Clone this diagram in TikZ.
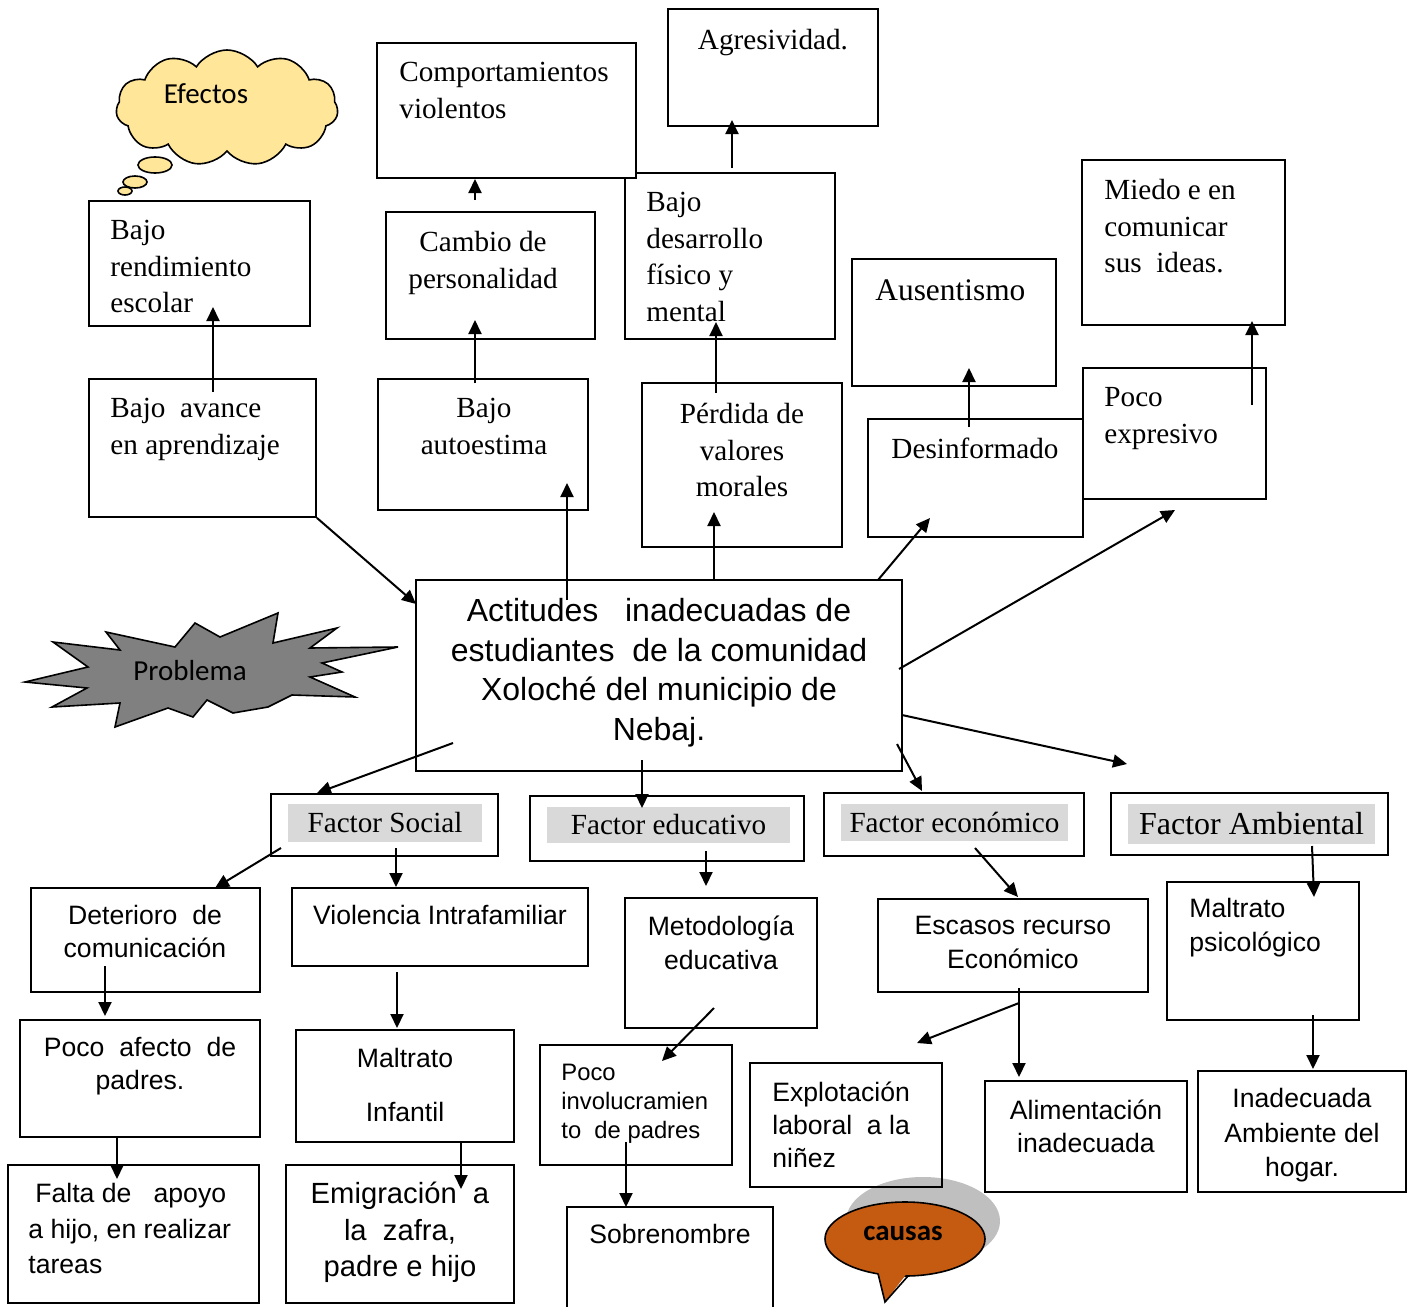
\documentclass[tikz,border=0pt]{standalone}
\usepackage{fontspec}
\setmainfont{Liberation Serif}
\newfontfamily\arialf{Liberation Sans}
\newfontfamily\calib{Carlito}
\usetikzlibrary{arrows.meta,fit,shapes.symbols}
\definecolor{cloudy}{HTML}{FFE699}
\definecolor{probgray}{HTML}{808080}
\definecolor{causeor}{HTML}{C55A11}
\definecolor{shadowg}{HTML}{BFBFBF}
\definecolor{factorg}{HTML}{D9D9D9}
\begin{document}
\begin{tikzpicture}[x=0.5pt,y=-0.5pt,
  box/.style={draw=black, line width=0.9pt, inner sep=0pt},
  wbox/.style={box, fill=white},
  fg/.style={fill=factorg, inner sep=0pt},
  tms/.style={inner sep=0pt, font=\fontsize{14.6}{18.3}\selectfont},
  ars/.style={inner sep=0pt, font=\arialf\fontsize{13.3}{16.6}\selectfont},
  arr/.style={line width=1pt, -{Triangle[length=7pt,width=6.5pt]}},
]
\useasboundingbox (0,0) rectangle (1413,1306);

% ---------- decorations ----------
\node[cloud, cloud puffs=11, cloud puff arc=115, aspect=1.9, draw, line width=0.8pt,
      fill=cloudy, minimum width=111pt, minimum height=58pt, inner sep=0pt] (cloud) at (227,108) {};
\draw[line width=0.8pt, fill=cloudy] (155,165) ellipse (17 and 8);
\draw[line width=0.8pt, fill=cloudy] (135,182) ellipse (12 and 6);
\draw[line width=0.8pt, fill=cloudy] (125,191) ellipse (7 and 4);
\node[inner sep=0pt, font=\calib\fontsize{14.5}{17}\selectfont] (efectos) at (206,94) {Efectos};

\draw[line width=0.8pt, fill=probgray]
  (25,682) -- (88,667) -- (53,642) -- (120,650) -- (106,632) -- (175,647) -- (195,623)
  -- (220,637) -- (278,613) -- (273,643) -- (337,628) -- (310,648) -- (398,647)
  -- (322,663) -- (342,672) -- (310,677) -- (355,697) -- (292,695) -- (268,707)
  -- (233,713) -- (207,700) -- (193,717) -- (168,708) -- (115,727) -- (120,703)
  -- (52,707) -- (87,688) -- cycle;
\node[inner sep=0pt, font=\calib\fontsize{14.5}{17}\selectfont] (problema) at (190,671) {Problema};

\fill[shadowg] (923,1221) ellipse (77 and 44);
\draw[line width=0.8pt, fill=causeor] (905,1239) ellipse (80 and 37);
\fill[causeor] (876,1265) -- (885,1302) -- (911,1268) -- cycle;
\draw[line width=0.8pt] (878,1273.5) -- (885,1302) -- (908,1276);
\node[inner sep=0pt, font=\calib\bfseries\fontsize{14.5}{17}\selectfont] (causas) at (903,1233) {causas};

% ---------- effect boxes ----------
\node[box, fit={(668,9)(878,126)}] (agr) {};
\node[box, fit={(89,201)(310,326)}] (rend) {};
\node[box, fit={(386,212)(595,339)}] (camb) {};
\node[box, fit={(625,173)(835,339)}] (desa) {};
\node[wbox, fit={(377,43)(636,178)}] (comp) {};
\node[box, fit={(852,259)(1056,386)}] (ause) {};
\node[box, fit={(1082,160)(1285,325)}] (miedo) {};
\node[box, fit={(89,379)(316,517)}] (avan) {};
\node[box, fit={(378,379)(588,510)}] (auto) {};
\node[box, fit={(642,383)(842,547)}] (perd) {};
\node[box, fit={(868,419)(1083,537)}] (desi) {};
\node[wbox, fit={(1083,368)(1266,499)}] (poco) {};
\node[box, fit={(416,580)(902,771)}] (prob) {};

\node[tms, anchor=north west, align=left] (compt) at (399,62) {Comportamientos\\violentos};
\node[tms, anchor=north] (agrt) at (773,29) {Agresividad.};
\node[tms, anchor=north west, align=left] (rendt) at (110,220) {Bajo\\rendimiento\\escolar};
\node[tms, anchor=north, align=center] (cambt) at (483,231) {Cambio de\\personalidad};
\node[tms, anchor=north west, align=left] (desat) at (646,192) {Bajo\\desarrollo\\físico y\\mental};
\node[inner sep=0pt, font=\fontsize{15.7}{19}\selectfont, anchor=north west] (auset) at (875,279) {Ausentismo};
\node[tms, anchor=north west, align=left] (miedot) at (1104,179) {Miedo e en\\comunicar\\sus\ \ ideas.};
\node[tms, anchor=north west, align=left] (avant) at (110,398) {Bajo\ \ avance\\en aprendizaje};
\node[tms, anchor=north, align=center] (autot) at (484,398) {Bajo\\autoestima};
\node[tms, anchor=north, align=center] (perdt) at (742,403) {Pérdida de\\valores\\morales};
\node[tms, anchor=north] (desit) at (975,438) {Desinformado};
\node[tms, anchor=north west, align=left] (pocot) at (1104,387) {Poco\\expresivo};
\node[inner sep=0pt, font=\arialf\fontsize{16}{19.75}\selectfont, anchor=north, align=center] (probt) at (659,598)
  {Actitudes\ \ \ inadecuadas de\\estudiantes\ \ de la comunidad\\Xoloché del municipio de\\Nebaj.};

% ---------- factor boxes ----------
\node[box, fit={(271,794)(498,856)}] (fsoc) {};
\node[box, fit={(530,796)(804,861)}] (fedu) {};
\node[box, fit={(824,793)(1084,856)}] (feco) {};
\node[box, fit={(1111,793)(1388,855)}] (famb) {};
\node[fg, fit={(288,804)(482,842)}] (fsocg) {};
\node[fg, fit={(547,807)(790,843)}] (fedug) {};
\node[fg, fit={(841,804)(1068,841)}] (fecog) {};
\node[fg, fit={(1128,804)(1375,844)}] (fambg) {};
\node[tms] (fsoct) at (fsocg.center) {Factor Social};
\node[tms] (fedut) at (fedug.center) {Factor educativo};
\node[tms] (fecot) at (fecog.center) {Factor económico};
\node[inner sep=0pt, font=\fontsize{16}{19}\selectfont] (fambt) at (fambg.center) {Factor Ambiental};

% ---------- cause boxes ----------
\node[box, fit={(31,888)(260,992)}] (deter) {};
\node[box, fit={(292,888)(588,966)}] (viol) {};
\node[box, fit={(625,898)(817,1028)}] (meto) {};
\node[box, fit={(878,899)(1148,992)}] (esca) {};
\node[box, fit={(1167,882)(1359,1020)}] (malps) {};
\node[box, fit={(20,1020)(260,1137)}] (afec) {};
\node[box, fit={(296,1030)(514,1142)}] (malin) {};
\node[box, fit={(540,1045)(732,1165)}] (invol) {};
\node[box, fit={(750,1063)(942,1187)}] (explo) {};
\node[box, fit={(985,1081)(1187,1192)}] (alim) {};
\node[box, fit={(1198,1071)(1406,1192)}] (inad) {};
\node[box, fit={(8,1165)(259,1303)}] (falta) {};
\node[box, fit={(286,1165)(514,1303)}] (emig) {};
\node[box, fit={(567,1207)(773,1330)}] (sobre) {};

\node[ars, anchor=north, align=center] (detert) at (145,905) {Deterioro\ \ de\\comunicación};
\node[ars, anchor=north] (violt) at (440,905) {Violencia Intrafamiliar};
\node[ars, anchor=north, align=center] (metot) at (721,916) {Metodología\\educativa};
\node[ars, anchor=north, align=center, font=\arialf\fontsize{13.3}{17}\selectfont] (escat) at (1013,916) {Escasos recurso\\Económico};
\node[ars, anchor=north west, align=left, font=\arialf\fontsize{13.3}{17}\selectfont] (malpst) at (1189,898) {Maltrato\\psicológico};
\node[ars, anchor=north, align=center] (afect) at (140,1037) {Poco\ \ afecto\ \ de\\padres.};
\node[ars, anchor=north, align=center, font=\arialf\fontsize{13.3}{27}\selectfont] (malint) at (405,1048) {Maltrato\\Infantil};
\node[inner sep=0pt, font=\arialf\fontsize{11.9}{14.5}\selectfont, anchor=north west, align=left] (involt) at (561,1064) {Poco\\involucramien\\to\ \ de padres};
\node[ars, anchor=north west, align=left] (explot) at (772,1081) {Explotación\\laboral\ \ a la\\niñez};
\node[ars, anchor=north, align=center] (alimt) at (1086,1099) {Alimentación\\inadecuada};
\node[ars, anchor=north, align=center, font=\arialf\fontsize{13.3}{17.3}\selectfont] (inadt) at (1302,1088) {Inadecuada\\Ambiente del\\hogar.};
\node[ars, anchor=north west, align=left, font=\arialf\fontsize{13.3}{17.75}\selectfont] (faltat) at (28,1183) {\hspace{3.5pt}Falta de\ \ \ apoyo\\a hijo, en realizar\\tareas};
\node[inner sep=0pt, font=\arialf\fontsize{14.6}{18.25}\selectfont, anchor=north, align=center] (emigt) at (400,1182) {Emigración\ \ a\\la\ \ zafra,\\padre e hijo};
\node[ars, anchor=north] (sobret) at (670,1224) {Sobrenombre};

% ---------- connectors ----------
\coordinate (e1a) at (213,392);  \coordinate (e1b) at (213,307);
\coordinate (e2a) at (475,383);  \coordinate (e2b) at (475,320);
\coordinate (e3a) at (475,200);  \coordinate (e3b) at (475,179);
\coordinate (e4a) at (732,168);  \coordinate (e4b) at (732,120);
\coordinate (e5a) at (716,393);  \coordinate (e5b) at (716,322);
\coordinate (e6a) at (969,427);  \coordinate (e6b) at (969,368);
\coordinate (e7a) at (1252,405); \coordinate (e7b) at (1252,321);
\coordinate (e8b) at (416,604);
\coordinate (e9a) at (567,600);  \coordinate (e9b) at (567,483);
\coordinate (e10a) at (714,580); \coordinate (e10b) at (714,512);
\coordinate (e11a) at (878,580); \coordinate (e11b) at (930,518);
\coordinate (e12a) at (899,669); \coordinate (e12b) at (1175,510);
\coordinate (c1a) at (902,715);  \coordinate (c1b) at (1127,764);
\coordinate (c2a) at (897,744);  \coordinate (c2b) at (922,791);
\coordinate (c3a) at (642,760);  \coordinate (c3b) at (642,808);
\coordinate (c4a) at (453,743);  \coordinate (c4b) at (317,793);
\coordinate (c5a) at (281,848);  \coordinate (c5b) at (215,888);
\coordinate (c6a) at (396,848);  \coordinate (c6b) at (396,887);
\coordinate (c7a) at (706,851);  \coordinate (c7b) at (706,886);
\coordinate (c8a) at (975,848);  \coordinate (c8b) at (1018,897);
\coordinate (c9a) at (1312,846); \coordinate (c9b) at (1314,897);
\coordinate (c10a) at (105,966); \coordinate (c10b) at (105,1016);
\coordinate (c11a) at (117,1137);\coordinate (c11b) at (117,1179);
\coordinate (c12a) at (397,972); \coordinate (c12b) at (397,1028);
\coordinate (c13a) at (461,1142);\coordinate (c13b) at (461,1189);
\coordinate (c14a) at (714,1008);\coordinate (c14b) at (662,1061);
\coordinate (c15a) at (626,1142);\coordinate (c15b) at (626,1207);
\coordinate (c16a) at (1019,988);\coordinate (c16b) at (1019,1077);
\coordinate (c17a) at (1019,1003);\coordinate (c17b) at (917,1043);
\coordinate (c18a) at (1313,1015);\coordinate (c18b) at (1313,1069);

\draw[arr] (e1a) -- (e1b);
\draw[arr] (e2a) -- (e2b);
\draw[arr] (e3a) -- (e3b);
\draw[arr] (e4a) -- (e4b);
\draw[arr] (e5a) -- (e5b);
\draw[arr] (e6a) -- (e6b);
\draw[arr] (e7a) -- (e7b);
\draw[arr] (avan.south east) -- (e8b);
\draw[arr] (e9a) -- (e9b);
\draw[arr] (e10a) -- (e10b);
\draw[arr] (e11a) -- (e11b);
\draw[arr] (e12a) -- (e12b);
\draw[arr] (c1a) -- (c1b);
\draw[arr] (c2a) -- (c2b);
\draw[arr] (c3a) -- (c3b);
\draw[arr] (c4a) -- (c4b);
\draw[arr] (c5a) -- (c5b);
\draw[arr] (c6a) -- (c6b);
\draw[arr] (c7a) -- (c7b);
\draw[arr] (c8a) -- (c8b);
\draw[arr] (c9a) -- (c9b);
\draw[arr] (c10a) -- (c10b);
\draw[arr] (c11a) -- (c11b);
\draw[arr] (c12a) -- (c12b);
\draw[arr] (c13a) -- (c13b);
\draw[arr] (c14a) -- (c14b);
\draw[arr] (c15a) -- (c15b);
\draw[arr] (c16a) -- (c16b);
\draw[arr] (c17a) -- (c17b);
\draw[arr] (c18a) -- (c18b);
\end{tikzpicture}
\end{document}
